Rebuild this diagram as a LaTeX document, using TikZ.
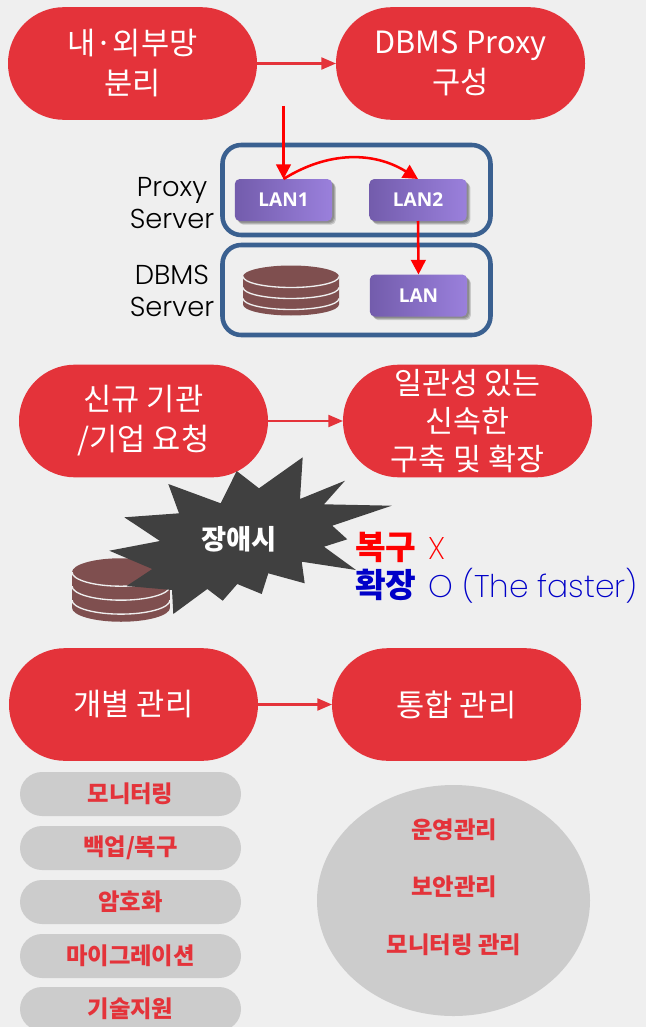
\documentclass[tikz,border=0pt]{standalone}
\usepackage{fontspec}
\setmainfont{Noto Sans CJK KR}
\newfontfamily\thinfont{Poppins Light}
\newfontfamily\hairfont{Poppins ExtraLight}
\newfontfamily\lanfont{Open Sans}
\usetikzlibrary{positioning,arrows.meta,shapes.geometric,shadows}
\definecolor{bgcol}{HTML}{EFEFEF}
\definecolor{pillred}{HTML}{E4333A}
\definecolor{greypill}{HTML}{CCCCCC}
\definecolor{boxblue}{HTML}{3A6090}
\definecolor{dbbrown}{HTML}{7F4F4F}
\definecolor{starcol}{HTML}{404040}
\definecolor{fastblue}{HTML}{0000C8}
\definecolor{lanleft}{HTML}{735CAC}
\definecolor{lanright}{HTML}{9A80DC}
\newcommand{\fsz}[2]{\fontsize{#1}{#2}\selectfont}

\begin{document}
\begin{tikzpicture}[
	x=0.75pt, y=-0.75pt,
	pill/.style={fill=pillred, text=white, align=center, minimum width=186.75pt, minimum height=84.5pt,
		rounded corners=42pt, inner sep=0pt, outer sep=0pt, font=\fsz{23}{30}},
	item/.style={fill=greypill, text=pillred, minimum width=165.75pt, minimum height=33pt,
		rounded corners=16.5pt, inner sep=0pt, outer sep=0pt, font=\fsz{17.5}{20}\bfseries},
	itemtext/.style={text=pillred, inner sep=0pt, font=\fsz{17.5}{20}\bfseries},
	serverbox/.style={draw=boxblue, line width=3.4pt, rounded corners=14pt, minimum width=201pt,
		minimum height=67.5pt, inner sep=0pt, outer sep=0pt},
	softshadow/.style={
		drop shadow={shadow xshift=1.2pt, shadow yshift=-1.2pt, fill=black, opacity=0.16},
		drop shadow={shadow xshift=2pt, shadow yshift=-2pt, fill=black, opacity=0.16},
		drop shadow={shadow xshift=2.8pt, shadow yshift=-2.8pt, fill=black, opacity=0.16}},
	lanbtn/.style={softshadow, left color=lanleft, right color=lanright, text=white, rounded corners=3.7pt,
		minimum width=73pt, minimum height=31.5pt, inner sep=0pt, outer sep=0pt, font=\lanfont\fsz{14.3}{16}\bfseries},
	lbl/.style={align=center, inner sep=0pt, font=\thinfont\fsz{20.5}{23.5}},
	flow/.style={draw=pillred, line width=1.6pt, -{Triangle[length=11pt,width=9pt]}},
	lanflow/.style={draw=red, line width=1.9pt, -{Triangle[length=11pt,width=11pt]}},
	dbstack/.pic={
		\fill[dbbrown] (-48,-14) -- (-48,14) arc[start angle=180,end angle=0,x radius=48,y radius=11] -- (48,-14)
		arc[start angle=0,end angle=-180,x radius=48,y radius=11] -- cycle;
		\foreach \yy in {-14,-3,8}
		\draw[bgcol, line width=1pt] (-48,\yy) arc[start angle=180,end angle=0,x radius=48,y radius=11];
	}
	]
	\useasboundingbox (0,0) rectangle (646,1027);
	\fill[bgcol] (0,0) rectangle (646,1027);
	% top row
	\node[pill] (split) at (132.5,63.5) {내·외부망\\분리};
	\node[pill] (proxy) at (460.5,63.5) {DBMS Proxy\\구성};
	\draw[flow] (split) -- (proxy);
	% server boxes
	\node[serverbox] (proxybox) at (356.5,190) {};
	\node[serverbox] (dbmsbox) at (356.5,290) {};
	\node[lbl] (proxylbl) at (172,203) {Proxy\\Server};
	\node[lbl] (dbmslbl) at (172,291) {DBMS\\Server};
	\node[lanbtn] (lanone) at (283.5,200) {LAN1};
	\node[lanbtn] (lantwo) at (418,200) {LAN2};
	\node[lanbtn] (lanthree) at (418.5,295.5) {LAN};
	\pic at (291,290.5) {dbstack};
	\coordinate (drop) at (283.5,106);
	\draw[lanflow] (drop) -- (lanone.north);
	\draw[lanflow] (lanone.north) to[bend left=32] (lantwo.north);
	\draw[lanflow] (lantwo.south) -- (lanthree.north);
	% middle row
	\node[pill] (newreq) at (143.5,421) {신규 기관\\/기업 요청};
	\node[pill, font=\fsz{22.8}{28.5}] (rapid) at (467.5,421) {일관성 있는\\신속한\\구축 및 확장};
	\draw[flow] (newreq) -- (rapid);
	% failure
	\pic[yscale=1.27, xscale=1.02] at (121,590) {dbstack};
	\fill[starcol] (302.7,457.3) -- (300,499) -- (345,480.7) -- (324,504.3) -- (391.7,505.7) -- (332.3,525.7)
	-- (347.3,539.3) -- (324,546.7) -- (356,570) -- (301.7,561.7) -- (304.7,583.3) -- (268.3,573.3) -- (261.7,594)
	-- (237.3,584) -- (222.7,600.7) -- (207.3,589) -- (173.3,614) -- (172,590) -- (126.7,586) -- (152.3,569)
	-- (109.3,550.7) -- (160,541) -- (124.3,517.3) -- (179,513.3) -- (168.3,484) -- (220.7,503.3) -- (236.7,471)
	-- (259,488.3) -- cycle;
	\node[text=white, inner sep=0pt, font=\fsz{20.5}{22}\bfseries] (fail) at (239,539) {장애시};
	\node[anchor=west, text=red, inner sep=0pt, font=\fsz{25}{28}] (recover) at (355,547) {\textbf{복구}\hspace{9pt}{\hairfont\fsz{23.5}{28}X}};
	\node[anchor=west, text=fastblue, inner sep=0pt, font=\fsz{25}{28}] (expand) at (355,586) {\textbf{확장}\hspace{9pt}{\hairfont\fsz{23.5}{28}O (The faster)}};
	% bottom row
	\node[pill] (each) at (133.5,704.5) {개별 관리};
	\node[pill] (unified) at (456.5,704.5) {통합 관리};
	\draw[flow] (each) -- (unified);
	% list on the left
	\node[item] (monitor) at (130.5,794) {모니터링};
	\node[item] (backup) at (130.5,848) {백업/복구};
	\node[item] (crypt) at (130.5,902) {암호화};
	\node[item] (migrate) at (130.5,956) {마이그레이션};
	\node[item] (support) at (130.5,1009) {기술지원};
	% circle on the right
	\node[ellipse, fill=greypill, minimum width=204.75pt, minimum height=173.25pt, inner sep=0pt] (blob) at (453.5,900.5) {};
	\node[itemtext] (ops) at (454,830) {운영관리};
	\node[itemtext] (sec) at (454,887) {보안관리};
	\node[itemtext] (moni) at (454,945) {모니터링 관리};
\end{tikzpicture}
\end{document}
